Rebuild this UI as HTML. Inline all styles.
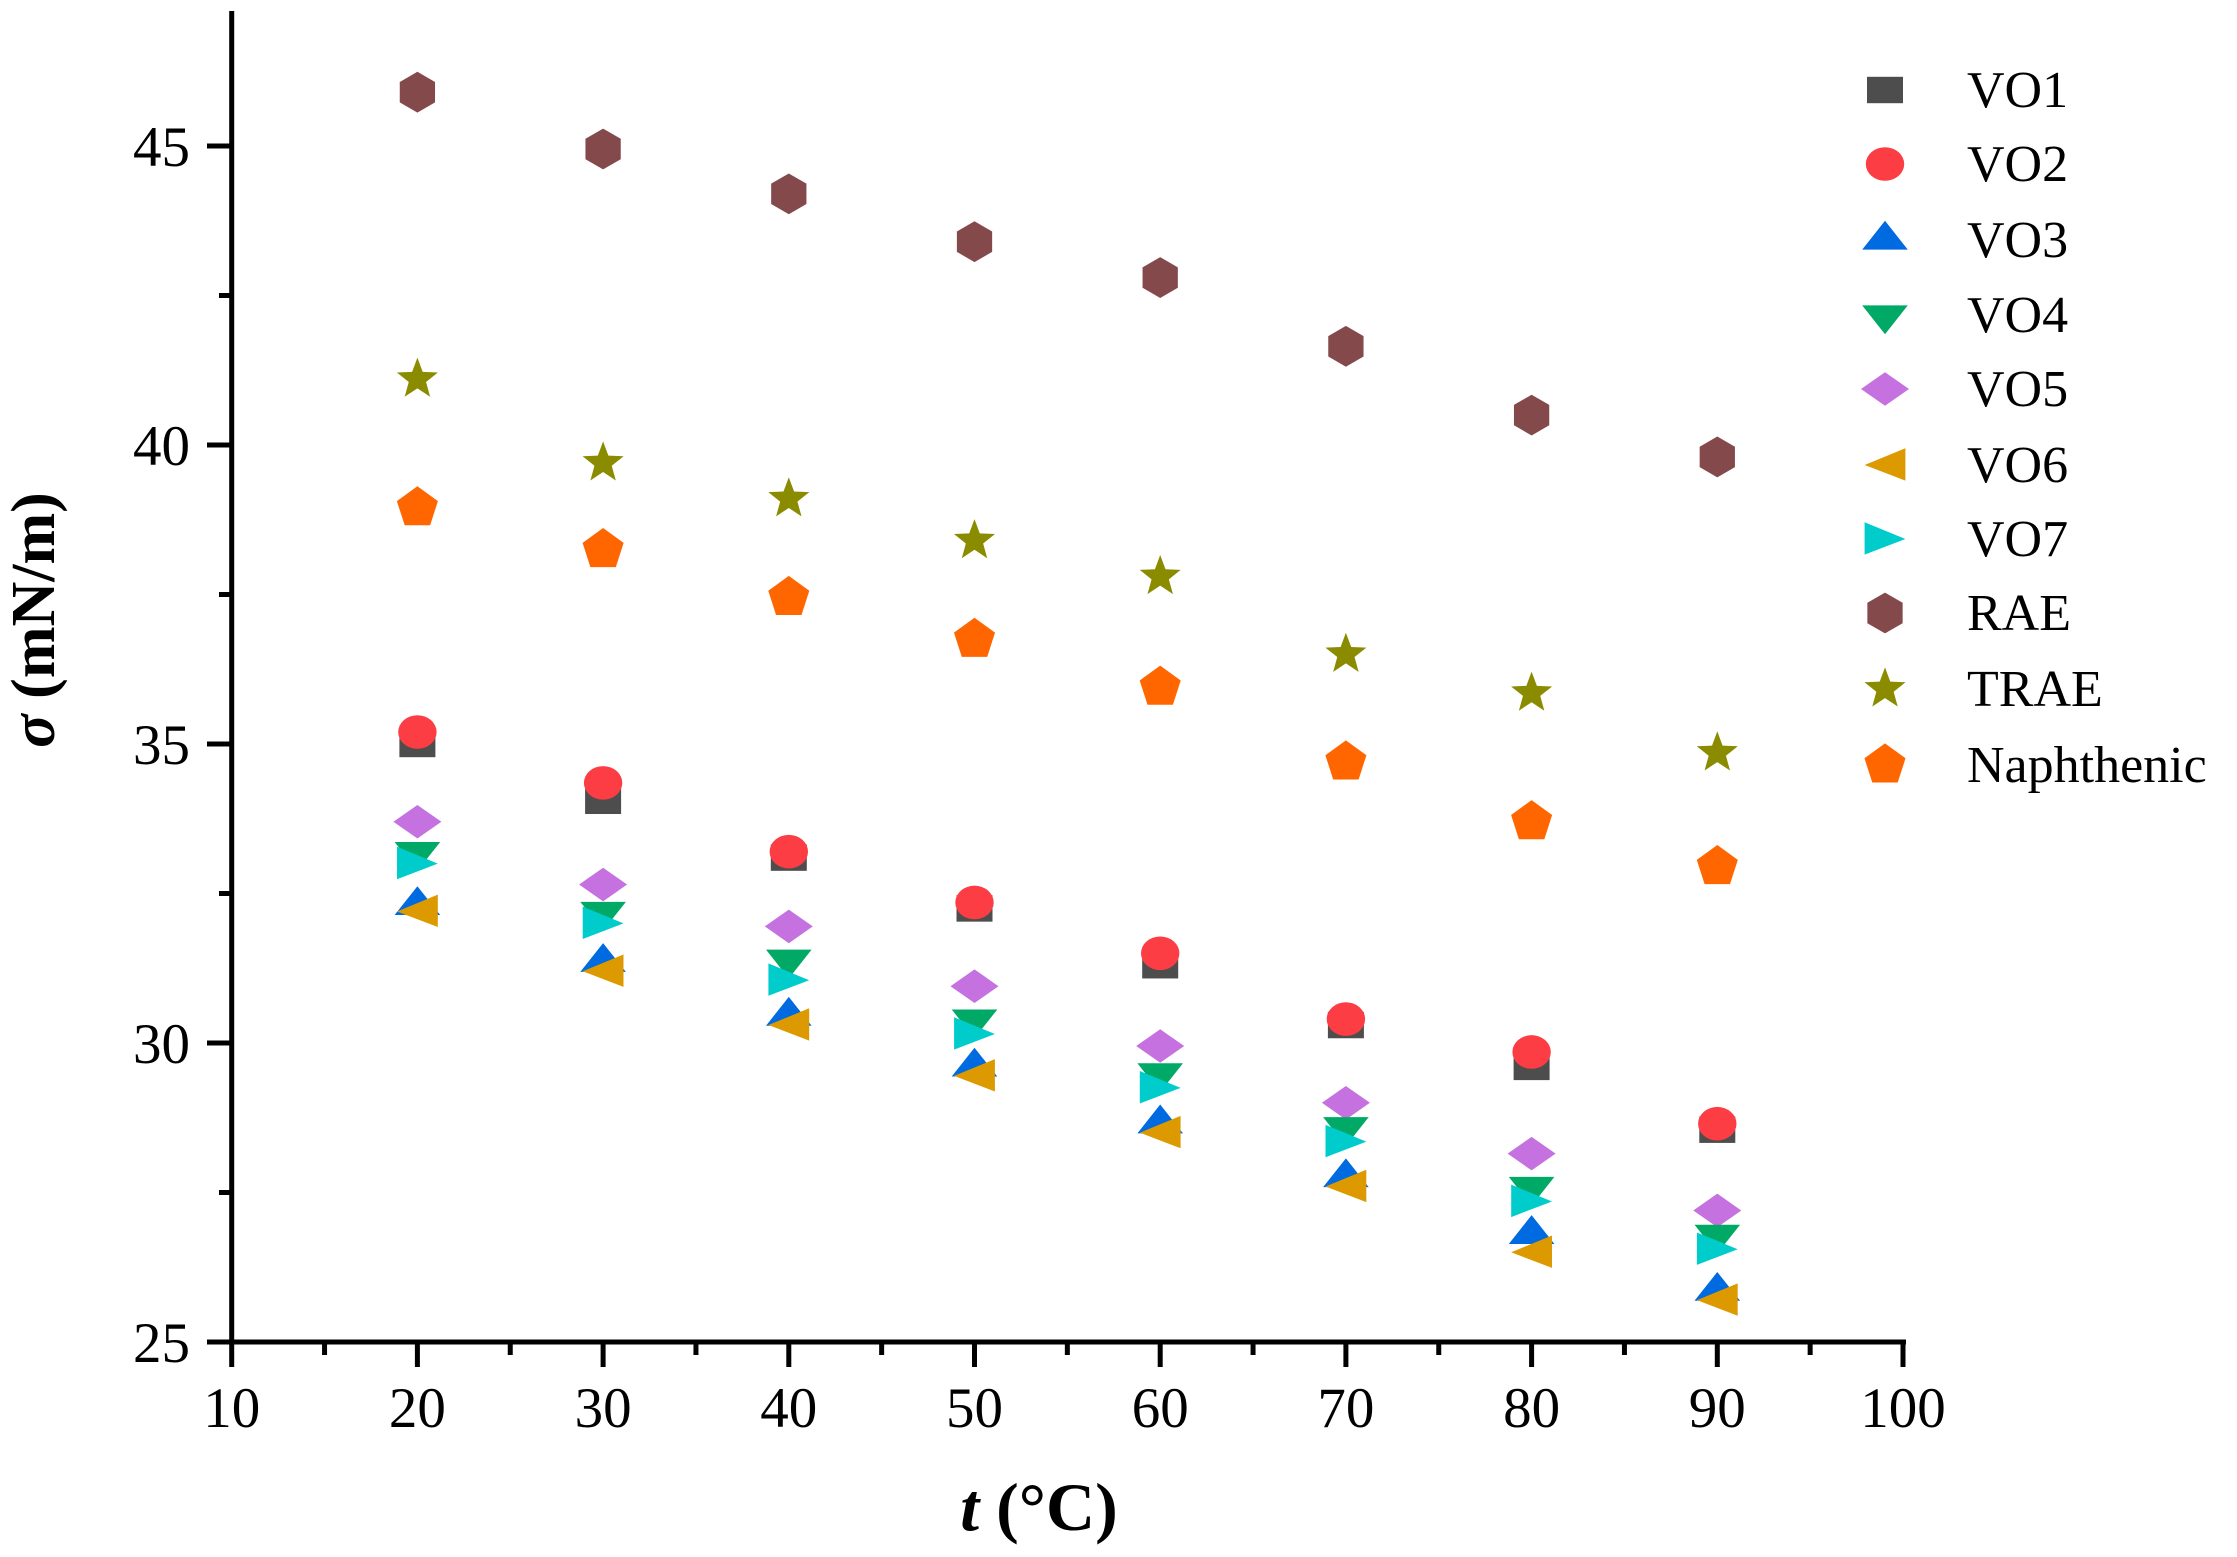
<!DOCTYPE html><html><head><style>body{margin:0;background:#fff}svg{display:block}text{font-family:"Liberation Serif",serif;fill:#000}</style></head><body>
<svg id="s" width="2237" height="1557" viewBox="0 0 2237 1557" xmlns="http://www.w3.org/2000/svg">
<g id="ax" stroke="#000" stroke-width="5"></g>
<g id="pts"></g>
<text x="54" y="620" font-size="62" font-weight="bold" text-anchor="middle" transform="rotate(-90 54 620)"><tspan font-style="italic">σ</tspan> (mN/m)</text>
<text x="1039" y="1530" font-size="68" font-weight="bold" text-anchor="middle"><tspan font-style="italic">t</tspan> (°C)</text>
</svg>
<script>
const NS="http://www.w3.org/2000/svg",s=document.getElementById('s'),ax=document.getElementById('ax'),P=document.getElementById('pts');
function el(p,t,a,txt){const e=document.createElementNS(NS,t);for(const k in a)e.setAttribute(k,a[k]);if(txt!=null)e.textContent=txt;p.appendChild(e);return e;}
const X=t=>231.7+(t-10)*18.57, Y=v=>1342-(v-25)*59.8;
el(ax,'line',{x1:231.7,y1:11,x2:231.7,y2:1344.5});
el(ax,'line',{x1:229,y1:1342,x2:1906,y2:1342});
for(let t=10;t<=100;t+=5){const m=t%10==0;el(ax,'line',{x1:X(t),y1:1342,x2:X(t),y2:m?1367:1355});if(m)el(s,'text',{x:X(t),y:1427,'font-size':57,'text-anchor':'middle'},t);}
for(let v=25;v<=45;v+=2.5){const m=v%5==0;el(ax,'line',{x1:231.7,y1:Y(v),x2:m?207:219,y2:Y(v)});if(m)el(s,'text',{x:190,y:Y(v)+20,'font-size':57,'text-anchor':'end'},v);}
function poly(n,r,rot){let p=[];for(let i=0;i<n;i++){const a=rot+i*2*Math.PI/n;p.push((r*Math.cos(a)).toFixed(1)+','+(r*Math.sin(a)).toFixed(1));}return p.join(' ');}
function star(r){let p=[];for(let i=0;i<10;i++){const a=-Math.PI/2+i*Math.PI/5,rr=i%2?r*0.42:r;p.push((rr*Math.cos(a)).toFixed(1)+','+(rr*Math.sin(a)).toFixed(1));}return p.join(' ');}
function mk(type,c,x,y){const g=el(P,'g',{transform:`translate(${x},${y}) scale(1.2)`,fill:c});
 if(type=='sq')el(g,'rect',{x:-15,y:-11,width:30,height:22});
 else if(type=='ci')el(g,'ellipse',{rx:16,ry:14});
 else if(type=='up')el(g,'polygon',{points:'0,-16 19,8 -19,8'});
 else if(type=='dn')el(g,'polygon',{points:'0,16 19,-8 -19,-8'});
 else if(type=='di')el(g,'polygon',{points:'0,-14 20,0 0,14 -20,0'});
 else if(type=='lt')el(g,'polygon',{points:'-17,0 17,-14 17,13'});
 else if(type=='rt')el(g,'polygon',{points:'17,0 -17,-14 -17,13'});
 else if(type=='hx')el(g,'polygon',{points:poly(6,17,Math.PI/2)});
 else if(type=='st')el(g,'polygon',{points:star(18)});
 else if(type=='pe')el(g,'polygon',{points:poly(5,18,-Math.PI/2)});
}
const S=[
['VO1','sq','#4d4d4d',[35.0,34.05,33.1,32.25,31.3,30.3,29.6,28.55]],
['VO2','ci','#fc3d44',[35.2,34.35,33.2,32.35,31.5,30.4,29.85,28.65]],
['VO3','up','#006ae0',[32.3,31.35,30.45,29.6,28.65,27.75,26.8,25.85]],
['VO4','dn','#00aa66',[33.2,32.2,31.4,30.4,29.5,28.6,27.6,26.8]],
['VO5','di','#c571e0',[33.7,32.65,31.95,30.95,29.95,29.0,28.15,27.2]],
['VO6','lt','#dc9a00',[32.2,31.2,30.3,29.45,28.5,27.6,26.5,25.7]],
['VO7','rt','#00cccc',[33.0,32.0,31.05,30.15,29.25,28.35,27.35,26.55]],
['RAE','hx','#84494b',[45.9,44.95,44.2,43.4,42.8,41.65,40.5,39.8]],
['TRAE','st','#8b8b00',[41.1,39.7,39.1,38.4,37.8,36.5,35.85,34.85]],
['Naphthenic','pe','#ff6600',[38.95,38.25,37.45,36.75,35.95,34.7,33.7,32.95]]];
const order=[7,8,9,0,1,4,3,6,2,5];
order.forEach(i=>{const d=S[i];d[3].forEach((v,j)=>mk(d[1],d[2],X(20+10*j),Y(v)));});
const LY=[90,164,240,315,389,465,539,613,689,765];
S.forEach((d,i)=>{mk(d[1],d[2],1885,LY[i]);el(s,'text',{x:1967,y:LY[i]+17,'font-size':52},d[0]);});
</script></body></html>
